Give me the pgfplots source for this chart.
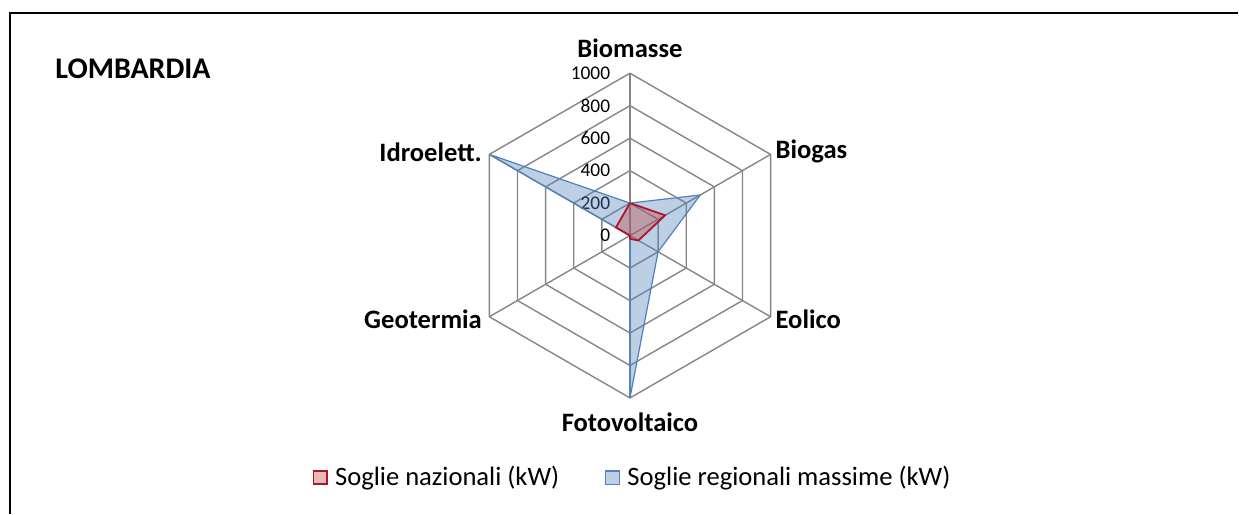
\documentclass[border=0pt]{standalone}
\usepackage{pgfplots}
\pgfplotsset{compat=1.18}
\usepackage{fontspec}
\setmainfont{Carlito}
\definecolor{gridc}{RGB}{134,134,134}
\definecolor{blueL}{RGB}{79,129,189}
\definecolor{redL}{RGB}{176,20,40}
\definecolor{redF}{RGB}{192,80,77}
\begin{document}
\begin{tikzpicture}
\begin{axis}[
  x=0.08125pt, y=0.08125pt,
  xmin=-3880, xmax=3745, ymin=-1712, ymax=1451,
  hide axis, clip=false,
  legend image code/.code={\draw[#1] (0pt,-3.3pt) rectangle (6.8pt,3.3pt); \path (8.5pt,0pt);},
  legend style={at={(rel axis cs:0.5117,0.070)}, anchor=center, draw=none, fill=none,
    font=\fontsize{13.3}{15}\selectfont, legend columns=2,
    /tikz/every even column/.append style={column sep=21pt},
    legend cell align=left, inner sep=0pt},
]
\fill[white] (rel axis cs:0,0) rectangle (rel axis cs:1,1);
\draw[line width=1pt] (rel axis cs:0.0081,0) -- (rel axis cs:0.0081,0.9747) -- (rel axis cs:1,0.9747);
\node[font=\bfseries\fontsize{15}{17}\selectfont, anchor=west, inner sep=0pt] at (rel axis cs:0.0444,0.8658) {LOMBARDIA};
% grid
\pgfplotsinvokeforeach{200,400,600,800,1000}{
  \addplot[gridc, line width=0.7pt, data cs=polar, forget plot]
    coordinates {(90,#1)(30,#1)(-30,#1)(-90,#1)(-150,#1)(150,#1)(90,#1)};
}
\pgfplotsinvokeforeach{90,30,-30,-90,-150,150}{
  \addplot[gridc, line width=0.7pt, data cs=polar, forget plot]
    coordinates {(#1,0)(#1,1000)};
}
% tick labels
\pgfplotsinvokeforeach{0,200,400,600,800,1000}{
  \node[anchor=east, font=\fontsize{9.7}{11}\selectfont, inner sep=0pt] at (axis cs:-120,#1) {#1};
}
% data: regional maximum thresholds
\addplot[blueL, line width=0.6pt, fill=blueL, fill opacity=0.38, data cs=polar, forget plot]
  coordinates {(90,200)(30,500)(-30,200)(-90,1000)(-150,0)(150,1000)(90,200)};
% data: national thresholds
\addplot[redL, line width=0.9pt, fill=redF, fill opacity=0.4, data cs=polar, forget plot]
  coordinates {(90,200)(30,250)(-30,60)(-90,20)(-150,0)(150,100)(90,200)};
% category labels
\begin{scope}[every node/.style={font=\bfseries\fontsize{13.3}{15}\selectfont, inner sep=0pt}]
\node[anchor=center] at (axis cs:0,1156) {Biomasse};
\node[anchor=west] at (axis cs:895,516) {Biogas};
\node[anchor=west] at (axis cs:895,-518) {Eolico};
\node[anchor=center] at (axis cs:0,-1150) {Fotovoltaico};
\node[anchor=east] at (axis cs:-910,-518) {Geotermia};
\node[anchor=east] at (axis cs:-910,516) {Idroelett.};
\end{scope}
\addlegendimage{draw=redL, line width=0.8pt, fill=redF, fill opacity=0.4}
\addlegendentry{Soglie nazionali (kW)}
\addlegendimage{draw=blueL, line width=0.6pt, fill=blueL, fill opacity=0.38}
\addlegendentry{Soglie regionali massime (kW)}
\end{axis}
\end{tikzpicture}
\end{document}
